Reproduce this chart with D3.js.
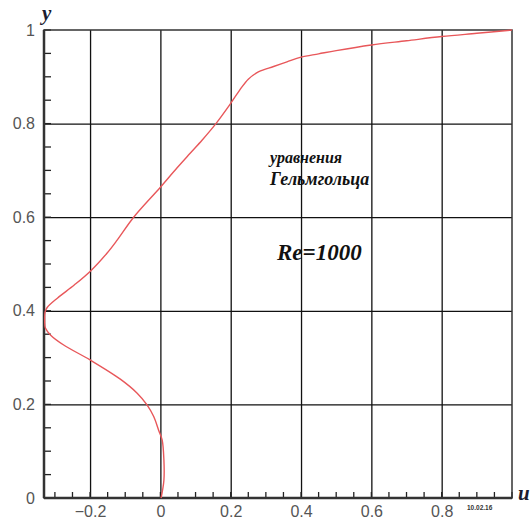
<!DOCTYPE html>
<html>
<head>
<meta charset="utf-8">
<script src="https://cdn.jsdelivr.net/npm/d3@7"></script>
<style>
    body { margin: 0; background: #fff; }
    .tick text { font-family: "Liberation Sans", Arial, sans-serif; }
</style>
</head>
<body>
<div id="chart"></div>
<script>
// velocity profile u(y)
const yValues = [0.0, 0.038, 0.081, 0.124, 0.145, 0.174, 0.199, 0.224, 0.254, 0.295, 0.327, 0.348, 0.363, 0.377,
    0.397, 0.407, 0.427, 0.455, 0.484, 0.523, 0.551, 0.6, 0.664, 0.705, 0.736, 0.765, 0.8, 0.84, 0.872, 0.895,
    0.911, 0.922, 0.932, 0.942, 0.949, 0.956, 0.968, 0.977, 0.986, 0.993, 1.0];
const uValues = [0.002, 0.01, 0.01, 0.005, -0.005, -0.019, -0.038, -0.066, -0.114, -0.2, -0.275, -0.312, -0.327, -0.329,
    -0.328, -0.322, -0.293, -0.245, -0.2, -0.152, -0.123, -0.076, 0.0, 0.047, 0.084, 0.119, 0.158, 0.197, 0.226, 0.25,
    0.28, 0.322, 0.36, 0.4, 0.45, 0.5, 0.6, 0.7, 0.8, 0.9, 1.0];

const xTickLabels = [-0.2, 0, 0.2, 0.4, 0.6, 0.8];
const xGridTicks = [-0.2, 0, 0.2, 0.4, 0.6, 0.8];
const yTickLabels = [0, 0.2, 0.4, 0.6, 0.8, 1];

let width = 530,
    height = 519,
    margin = {top: 30, right: 18, bottom: 21, left: 44};

let chartWidth = width - margin.left - margin.right,
    chartHeight = height - margin.top - margin.bottom;

let svg = d3.select('#chart').append('svg')
    .attr('width', width)
    .attr('height', height);

let g = svg.append('g')
    .attr('transform', `translate(${margin.left}, ${margin.top})`);

let scaleX = d3.scaleLinear().domain([-0.331, 1]).range([0, chartWidth]);
let scaleY = d3.scaleLinear().domain([0, 1]).range([chartHeight, 0]);

// grid lines
g.append('g')
    .attr('transform', `translate(0, ${chartHeight})`)
    .call(d3.axisBottom(scaleX).tickValues(xGridTicks).tickSize(-chartHeight).tickFormat(''))
    .call((a) => a.select('.domain').remove())
    .selectAll('line').attr('stroke', '#111').attr('stroke-width', 1.3);

g.append('g')
    .call(d3.axisLeft(scaleY).tickValues([0.2, 0.4, 0.6, 0.8]).tickSize(-chartWidth).tickFormat(''))
    .call((a) => a.select('.domain').remove())
    .selectAll('line').attr('stroke', '#111').attr('stroke-width', 1.3);

// minor ticks, pointing into the plot
let minorX = d3.range(-0.3, 1.0001, 0.05).map((v) => +v.toFixed(2));
let minorY = d3.range(0, 1.0001, 0.05).map((v) => +v.toFixed(2));

g.append('g')
    .selectAll('line')
    .data(minorX)
    .enter()
    .append('line')
    .attr('x1', (d) => scaleX(d)).attr('x2', (d) => scaleX(d))
    .attr('y1', chartHeight).attr('y2', chartHeight - 6)
    .attr('stroke', '#222').attr('stroke-width', 1.3);

g.append('g')
    .selectAll('line')
    .data(minorY)
    .enter()
    .append('line')
    .attr('x1', 0).attr('x2', 7)
    .attr('y1', (d) => scaleY(d)).attr('y2', (d) => scaleY(d))
    .attr('stroke', '#222').attr('stroke-width', 1.3);

// frame
g.append('rect')
    .attr('width', chartWidth)
    .attr('height', chartHeight)
    .attr('fill', 'none')
    .attr('stroke', '#333')
    .attr('stroke-width', 1.5);

g.append('line')
    .attr('x1', 0).attr('x2', 0)
    .attr('y1', 0).attr('y2', chartHeight)
    .attr('stroke', '#333').attr('stroke-width', 2.5);

g.append('line')
    .attr('x1', 0).attr('x2', chartWidth)
    .attr('y1', chartHeight).attr('y2', chartHeight)
    .attr('stroke', '#333').attr('stroke-width', 2.5);

// tick labels
let xAxis = g.append('g')
    .attr('transform', `translate(0, ${chartHeight})`)
    .call(d3.axisBottom(scaleX).tickValues(xTickLabels).tickSize(0).tickPadding(8).tickFormat(d3.format('')));
xAxis.select('.domain').remove();
xAxis.selectAll('text')
    .attr('fill', '#555')
    .attr('font-size', 16);

let yAxis = g.append('g')
    .call(d3.axisLeft(scaleY).tickValues(yTickLabels).tickSize(0).tickPadding(9).tickFormat(d3.format('')));
yAxis.select('.domain').remove();
yAxis.selectAll('text')
    .attr('fill', '#555')
    .attr('font-size', 16);

// profile curve
let points = yValues.map((y, i) => ({u: uValues[i], y}));

let line = d3.line()
    .x((d) => scaleX(d.u))
    .y((d) => scaleY(d.y))
    .curve(d3.curveCatmullRom.alpha(0.5));

g.append('path')
    .datum(points)
    .attr('d', line)
    .attr('fill', 'none')
    .attr('stroke', '#e8575a')
    .attr('stroke-width', 1.4);

// axis titles
svg.append('text')
    .attr('x', 42).attr('y', 20)
    .attr('font-family', '"Liberation Serif", serif')
    .attr('font-style', 'italic').attr('font-weight', 'bold')
    .attr('font-size', 21).attr('fill', '#1c1c30')
    .text('y');

svg.append('text')
    .attr('x', 518).attr('y', 500)
    .attr('font-family', '"Liberation Serif", serif')
    .attr('font-style', 'italic').attr('font-weight', 'bold')
    .attr('font-size', 21).attr('fill', '#1c1c30')
    .text('u');

// annotation
let note = svg.append('g')
    .attr('font-family', '"Liberation Serif", serif')
    .attr('font-style', 'italic')
    .attr('font-weight', 'bold')
    .attr('fill', '#111');

note.append('text').attr('x', 270).attr('y', 163).attr('font-size', 16).text('уравнения');
note.append('text').attr('x', 270).attr('y', 185).attr('font-size', 18).text('Гельмгольца');
note.append('text').attr('x', 277).attr('y', 260).attr('font-size', 23).text('Re=1000');

svg.append('text')
    .attr('x', 467).attr('y', 510)
    .attr('font-family', '"Liberation Sans", sans-serif')
    .attr('font-weight', 'bold')
    .attr('font-size', 6.5).attr('fill', '#333')
    .text('10.02.16');
</script>
</body>
</html>
